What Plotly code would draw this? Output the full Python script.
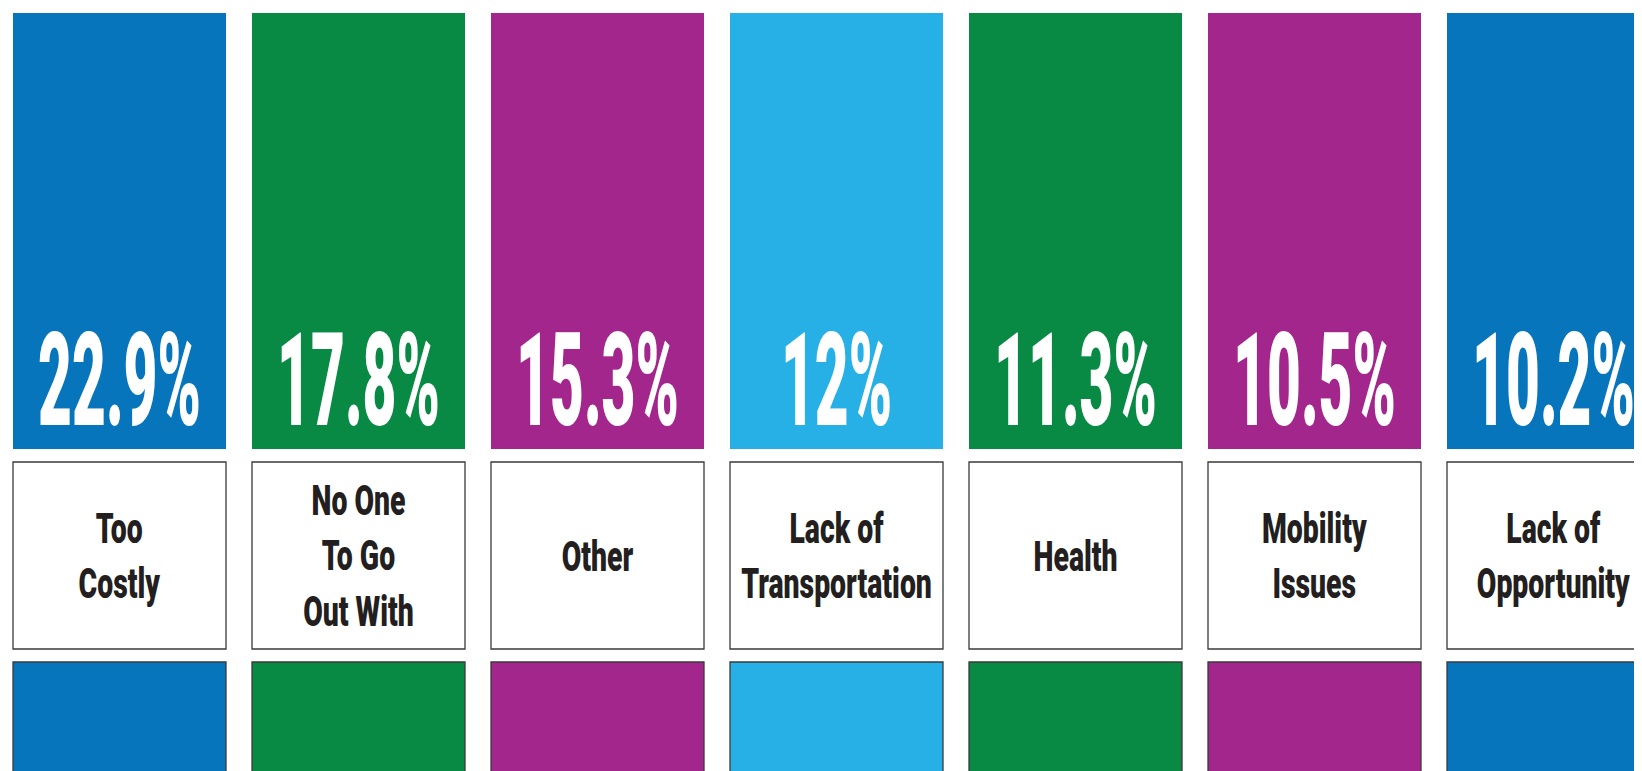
import plotly.graph_objects as go

# ---- data ----
categories = ["Too<br>Costly", "No One<br>To Go<br>Out With", "Other",
              "Lack of<br>Transportation", "Health", "Mobility<br>Issues",
              "Lack of<br>Opportunity"]
values = [22.9, 17.8, 15.3, 12, 11.3, 10.5, 10.2]
value_labels = ["22.9%", "17.8%", "15.3%", "12%", "11.3%", "10.5%", "10.2%"]
colors = ["#0675BC", "#088A45", "#A3268D", "#27B0E5", "#088A45", "#A3268D", "#0675BC"]

# ---- layout (pixel-like units, y measured upward from bottom of figure) ----
W, H = 1642, 771
OFF = 8  # page body margin
idx = list(range(len(categories)))
pitch = 239
bar_w = 213 / pitch

top_base, top_h = H - (449 - OFF), 436          # coloured value tiles
lab_base, lab_h = H - (649 - OFF), 187          # white label tiles
bot_top = H - (662 - OFF)
bot_base, bot_h = -120, bot_top + 120           # coloured bottom tiles (cut off)

FONT = "Roboto, Liberation Sans, sans-serif"
VAL_SIZE = 130
LAB_SIZE = 43

fig = go.Figure()

fig.add_trace(go.Bar(
    x=idx, y=[top_h] * len(idx), base=top_base, width=bar_w,
    marker=dict(color=colors, line=dict(width=0)),
    text=value_labels, textposition="inside", insidetextanchor="start",
    textangle=0, constraintext="none",
    textfont=dict(family=FONT, size=VAL_SIZE, color="white", weight=900),
    hoverinfo="skip", customdata=values, showlegend=False,
))

fig.add_trace(go.Bar(
    x=idx, y=[lab_h] * len(idx), base=lab_base, width=bar_w,
    marker=dict(color="white", line=dict(width=1.3, color="#3a3a3a")),
    text=categories, textposition="inside", insidetextanchor="middle",
    textangle=0, constraintext="none",
    textfont=dict(family=FONT, size=LAB_SIZE, color="#231F20", weight=900),
    hoverinfo="skip", showlegend=False,
))

fig.add_trace(go.Bar(
    x=idx, y=[bot_h] * len(idx), base=bot_base, width=bar_w,
    marker=dict(color=colors, line=dict(width=1.3, color="#3a3a3a")),
    hoverinfo="skip", showlegend=False,
))

x0 = -(13 - OFF + 213 / 2) / pitch
fig.update_layout(
    width=W, height=H, margin=dict(l=0, r=0, t=0, b=0),
    paper_bgcolor="white", plot_bgcolor="white",
    barmode="overlay",
    xaxis=dict(range=[x0, x0 + W / pitch], visible=False, fixedrange=True),
    yaxis=dict(range=[0, H], visible=False, fixedrange=True),
    showlegend=False,
)

# condense the text horizontally (the original uses a condensed typeface)
condense_js = """
var gd = document.getElementById('{plot_id}');
gd.querySelectorAll('text.bartext').forEach(function(t){
  var fs = parseFloat(t.style.fontSize);
  var big = fs > 80;
  var sx = big ? 0.45 : 0.66;
  var dy = big ? 0.085 * fs : 0;
  var bb = t.getBBox();
  var cx = bb.x + bb.width / 2;
  var old = t.getAttribute('transform') || '';
  t.setAttribute('transform', old + ' translate(' + cx + ',' + dy + ') scale(' + sx + ',1) translate(' + (-cx) + ',0)');
});
"""

fig.write_html("out.html", post_script=condense_js)
